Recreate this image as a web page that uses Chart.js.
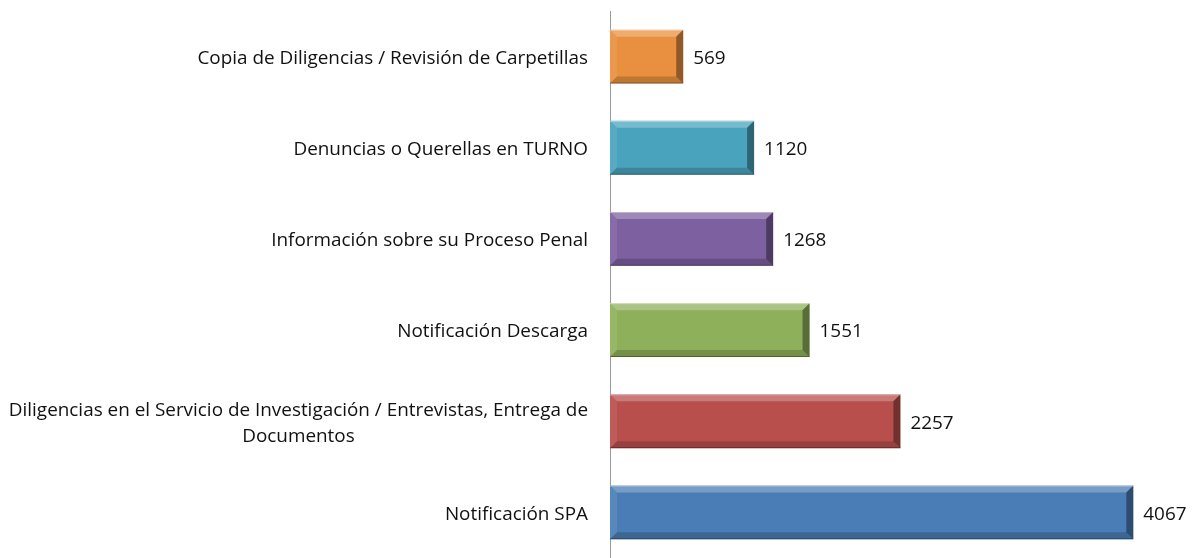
<!DOCTYPE html>
<html>
<head>
<meta charset="utf-8">
<script src="https://cdn.jsdelivr.net/npm/chart.js@4.4.0/dist/chart.umd.min.js"></script>
<style>
  html, body { margin: 0; padding: 0; background: #fff; }
  #wrap { width: 1195px; height: 558px; }
</style>
</head>
<body>
<div id="wrap"><canvas id="motivosChart"></canvas></div>
<script>
// categories, top to bottom
const categorias = [
  'Copia de Diligencias / Revisión de Carpetillas',
  'Denuncias o Querellas en TURNO',
  'Información sobre su Proceso Penal',
  'Notificación Descarga',
  ['Diligencias en el Servicio de Investigación / Entrevistas, Entrega de', 'Documentos'],
  'Notificación SPA'
];
const atenciones = [569, 1120, 1268, 1551, 2257, 4067];
const colores = ['#E8903F', '#4AA3BD', '#7D60A0', '#8FB05A', '#B94F4C', '#4A7DB5'];

const FONT = '18.9px "Open Sans", Lato, sans-serif';

// left labels, drawn from the y scale positions
const etiquetas = {
  id: 'etiquetas',
  afterDraw(chart) {
    const ctx = chart.ctx;
    const yScale = chart.scales.y;
    const right = chart.chartArea.left - 22;
    ctx.save();
    ctx.font = FONT;
    ctx.fillStyle = '#111';
    ctx.textBaseline = 'middle';
    ctx.textAlign = 'center';
    categorias.forEach((lab, i) => {
      const lines = Array.isArray(lab) ? lab : [lab];
      const w = Math.max(...lines.map(l => ctx.measureText(l).width));
      const cx = right - w / 2;
      const y0 = yScale.getPixelForValue(i) + 2 - (lines.length - 1) * 13;
      lines.forEach((l, k) => ctx.fillText(l, cx, y0 + k * 26));
    });
    ctx.restore();
  }
};

// bevel look + value labels
const bisel = {
  id: 'bisel',
  afterDatasetsDraw(chart) {
    const ctx = chart.ctx;
    const meta = chart.getDatasetMeta(0);
    ctx.save();
    meta.data.forEach((bar, i) => {
      const L = Math.min(bar.base, bar.x), R = Math.max(bar.base, bar.x);
      const T = bar.y - bar.height / 2, B = bar.y + bar.height / 2;
      const b = 7;
      const poly = (pts, fill) => {
        ctx.beginPath();
        ctx.moveTo(pts[0][0], pts[0][1]);
        pts.slice(1).forEach(p => ctx.lineTo(p[0], p[1]));
        ctx.closePath();
        ctx.fillStyle = fill;
        ctx.fill();
      };
      poly([[L, T], [R, T], [R - b, T + b], [L + b, T + b]], 'rgba(255,255,255,0.25)');
      poly([[L, T], [L + b, T + b], [L + b, B - b], [L, B]], 'rgba(255,255,255,0.08)');
      poly([[L, B], [L + b, B - b], [R - b, B - b], [R, B]], 'rgba(0,0,0,0.18)');
      poly([[R, T], [R, B], [R - b, B - b], [R - b, T + b]], 'rgba(0,0,0,0.38)');
      ctx.fillStyle = 'rgba(255,255,255,0.35)';
      ctx.fillRect(L, T, R - L, 1);
      ctx.fillStyle = 'rgba(0,0,0,0.3)';
      ctx.fillRect(L, B - 1, R - L, 1);

      ctx.font = FONT;
      ctx.fillStyle = '#111';
      ctx.textAlign = 'left';
      ctx.textBaseline = 'middle';
      ctx.fillText(String(atenciones[i]), R + 10, bar.y + 2);
    });
    ctx.restore();
  }
};

new Chart(document.getElementById('motivosChart'), {
  type: 'bar',
  data: {
    labels: categorias,
    datasets: [{
      data: atenciones,
      backgroundColor: colores,
      borderWidth: 0,
      categoryPercentage: 1,
      barPercentage: 0.59
    }]
  },
  options: {
    indexAxis: 'y',
    responsive: true,
    maintainAspectRatio: false,
    animation: false,
    layout: { padding: { left: 610, right: 6, top: 11, bottom: 0 } },
    plugins: { legend: { display: false }, tooltip: { enabled: false } },
    scales: {
      x: { display: false, min: 0, max: 4500 },
      y: {
        ticks: { display: false },
        grid: { display: false },
        border: { display: true, color: '#9a9a9a', width: 1 },
        afterFit(scale) { scale.width = 0; }
      }
    }
  },
  plugins: [etiquetas, bisel]
});
</script>
</body>
</html>
